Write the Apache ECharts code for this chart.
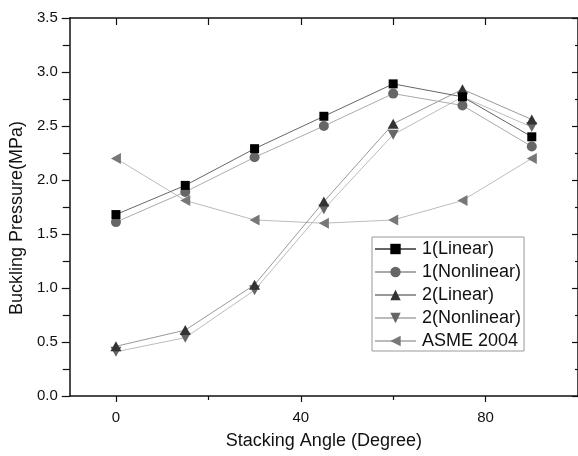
<!DOCTYPE html>
<html>
<head>
<meta charset="utf-8">
<script src="https://cdn.jsdelivr.net/npm/echarts@6/dist/echarts.min.js"></script>
<style>html,body{margin:0;padding:0;background:#fff}#c{width:578px;height:456px}</style>
</head>
<body>
<div id="c"></div>
<script>
const angles = [0, 15, 30, 45, 60, 75, 90];
const linear1 = [1.68, 1.95, 2.29, 2.59, 2.89, 2.77, 2.40];
const nonlinear1 = [1.61, 1.89, 2.21, 2.50, 2.80, 2.69, 2.31];
const linear2 = [0.46, 0.61, 1.03, 1.80, 2.52, 2.84, 2.56];
const nonlinear2 = [0.41, 0.54, 0.98, 1.73, 2.42, 2.77, 2.49];
const asme2004 = [2.20, 1.81, 1.63, 1.60, 1.63, 1.81, 2.20];
const xMajorLabels = [0, 40, 80];
const xTicks = [0, 20, 40, 60, 80];
const xMinorBottom = [20, 60];

const font = 'Liberation Sans, Arial, sans-serif';
function pairs(vals) { return angles.map((a, i) => [a, vals[i]]); }

const chart = echarts.init(document.getElementById('c'), null, {renderer: 'canvas'});
const axisLineStyle = {color: '#111', width: 1.5};

chart.setOption({
  animation: false,
  grid: {left: 68, width: 513, top: 18, bottom: 60, containLabel: false},
  xAxis: [
    {
      type: 'value', position: 'bottom', min: -10, max: 100,
      name: 'Stacking Angle (Degree)', nameLocation: 'middle', nameGap: 36,
      nameTextStyle: {fontFamily: font, fontSize: 18, color: '#111'},
      axisLine: {show: true, onZero: false, lineStyle: axisLineStyle},
      axisTick: {show: true, inside: false, length: 6, customValues: xMajorLabels, lineStyle: {color: '#111', width: 1.2}},
      axisLabel: {show: true, customValues: xMajorLabels, margin: 14, fontFamily: font, fontSize: 15, color: '#111'},
      splitLine: {show: false}
    },
    {
      type: 'value', position: 'top', min: -10, max: 100,
      axisLine: {show: true, onZero: false, lineStyle: axisLineStyle},
      axisTick: {show: true, inside: true, length: 7, customValues: xTicks, lineStyle: {color: '#111', width: 1.2}},
      axisLabel: {show: false},
      splitLine: {show: false}
    },
    {
      type: 'value', position: 'bottom', min: -10, max: 100,
      axisLine: {show: false, onZero: false},
      axisTick: {show: true, inside: false, length: 4, customValues: xMinorBottom, lineStyle: {color: '#111', width: 1.2}},
      axisLabel: {show: false},
      splitLine: {show: false}
    }
  ],
  yAxis: [
    {
      type: 'value', position: 'left', min: 0, max: 3.5, interval: 0.5,
      name: 'Buckling Pressure(MPa)', nameLocation: 'middle', nameGap: 42,
      nameTextStyle: {fontFamily: font, fontSize: 18, color: '#111', padding: [0, 22, 0, 0]},
      axisLine: {show: true, onZero: false, lineStyle: axisLineStyle},
      axisTick: {show: true, inside: false, length: 8, lineStyle: {color: '#111', width: 1.2}},
      minorTick: {show: true, splitNumber: 2, length: 7, lineStyle: {color: '#111', width: 1.2}},
      axisLabel: {show: true, margin: 12, fontFamily: font, fontSize: 15, color: '#111',
        formatter: v => v.toFixed(1)},
      splitLine: {show: false}, minorSplitLine: {show: false}
    },
    {
      type: 'value', position: 'right', min: 0, max: 3.5, interval: 0.5,
      axisLine: {show: true, onZero: false, lineStyle: axisLineStyle},
      axisTick: {show: true, inside: true, length: 6, lineStyle: {color: '#111', width: 1.2}},
      minorTick: {show: true, splitNumber: 2, length: 3, lineStyle: {color: '#111', width: 1.2}},
      axisLabel: {show: false},
      splitLine: {show: false}, minorSplitLine: {show: false}
    }
  ],
  legend: {
    orient: 'vertical', left: 372, top: 237,
    padding: [3, 3, 1, 2], itemGap: 5, itemWidth: 41, itemHeight: 13,
    borderColor: '#999', borderWidth: 1, backgroundColor: '#fff',
    textStyle: {fontFamily: font, fontSize: 18, color: '#111', lineHeight: 18, padding: [0, 0, 0, 1]},
    data: ['1(Linear)', '1(Nonlinear)', '2(Linear)', '2(Nonlinear)', 'ASME 2004']
  },
  series: [
    {name: '1(Linear)', type: 'line', data: pairs(linear1), symbol: 'rect', symbolSize: 9,
      itemStyle: {color: '#000'}, lineStyle: {color: '#666', width: 1}, z: 5},
    {name: '1(Nonlinear)', type: 'line', data: pairs(nonlinear1), symbol: 'circle', symbolSize: 10,
      itemStyle: {color: '#666'}, lineStyle: {color: '#aaa', width: 1}, z: 4},
    {name: '2(Linear)', type: 'line', data: pairs(linear2), symbol: 'path://M5,0 L10,9 L0,9 Z', symbolSize: [11, 10],
      itemStyle: {color: '#333'}, lineStyle: {color: '#999', width: 1}, z: 3},
    {name: '2(Nonlinear)', type: 'line', data: pairs(nonlinear2), symbol: 'path://M0,0 L10,0 L5,9 Z', symbolSize: [11, 10],
      itemStyle: {color: '#666'}, lineStyle: {color: '#bbb', width: 1}, z: 2},
    {name: 'ASME 2004', type: 'line', data: pairs(asme2004), symbol: 'path://M0,5 L9,0 L9,10 Z', symbolSize: [10, 11],
      itemStyle: {color: '#777'}, lineStyle: {color: '#bbb', width: 1}, z: 1}
  ]
});
</script>
</body>
</html>
